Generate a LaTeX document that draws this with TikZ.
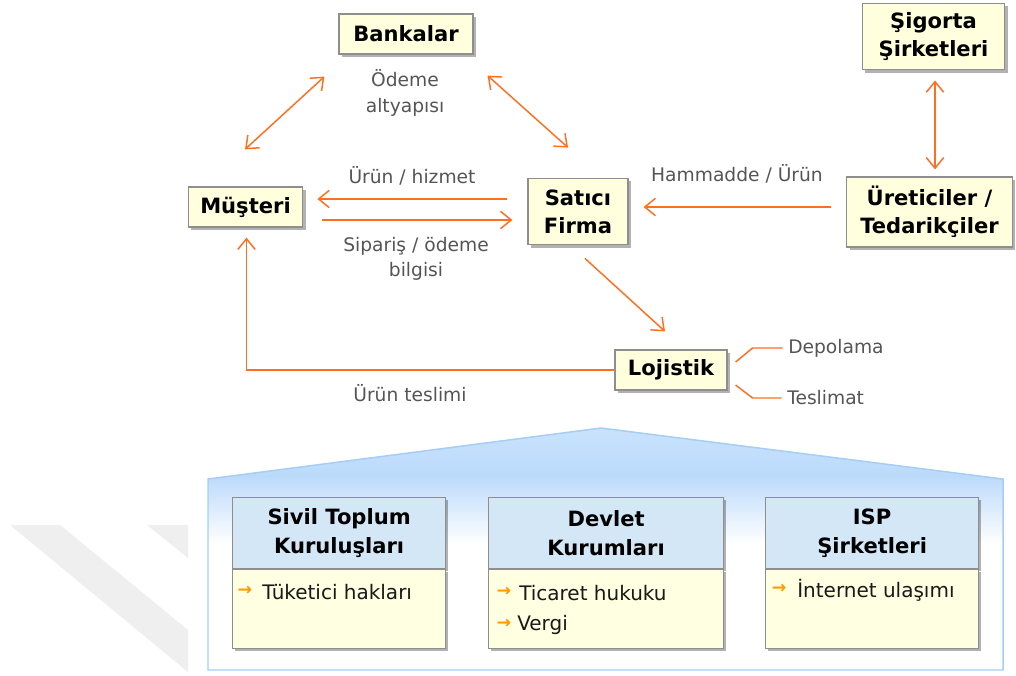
\documentclass[tikz,border=0pt]{standalone}
\usepackage{fontspec}
\setmainfont{DejaVu Sans}
\usetikzlibrary{arrows.meta,calc,shadows}
\definecolor{org}{HTML}{FF6F1F}
\definecolor{bul}{HTML}{FF9A00}
\definecolor{boxgray}{HTML}{8E8E8E}
\definecolor{boxyel}{HTML}{FFFFDD}
\definecolor{bodyyel}{HTML}{FFFFE2}
\definecolor{hdrblue}{HTML}{D4E7F6}
\definecolor{lblgray}{HTML}{555555}
\definecolor{hborder}{HTML}{A6CDF6}
\definecolor{hblue}{HTML}{BBDAFB}
\definecolor{hblue2}{HTML}{C9E2FD}
\definecolor{wm}{HTML}{EFEFEF}
\pgfdeclareverticalshading{houseshade}{100bp}{color(0bp)=(white); color(51bp)=(white); color(65bp)=(hblue); color(75bp)=(hblue2); color(100bp)=(hblue2)}
\begin{document}
\begin{tikzpicture}[x=0.75pt,y=-0.75pt,
  shad/.style={drop shadow={shadow xshift=2pt,shadow yshift=-2pt,opacity=0.3,fill=black}},
  topbox/.style={draw=boxgray, fill=boxyel, line width=0.9pt, shad, align=center, inner sep=0pt,
    font=\fontsize{15.8}{21}\selectfont\bfseries},
  hdr/.style={draw=boxgray, fill=hdrblue, line width=0.9pt, shad, align=center, inner sep=0pt,
    font=\fontsize{15.8}{21.5}\selectfont\bfseries},
  body/.style={draw=boxgray, fill=bodyyel, line width=0.9pt, shad, inner sep=0pt},
  lbl/.style={text=lblgray, align=center, inner sep=0pt, font=\fontsize{14}{19}\selectfont},
  item/.style={text=black!90, anchor=west, inner sep=0pt, font=\fontsize{15}{18}\selectfont},
  bull/.style={text=bul, inner sep=0pt, font=\fontsize{13}{13}\selectfont\bfseries},
  arr/.style={draw=org, line width=1.1pt, -{Straight Barb[length=8pt,width=13pt]}},
  dbl/.style={draw=org, line width=1.1pt, {Straight Barb[length=8pt,width=13pt]}-{Straight Barb[length=8pt,width=13pt]}},
  brl/.style={draw=org, line width=1.1pt, shorten >=4pt}
]
\useasboundingbox (0,0) rectangle (1016,675);
\fill[white] (0,0) rectangle (1016,675);
% watermark
\fill[wm] (10,525) -- (60,525) -- (188,630) -- (188,672) -- cycle;
\fill[wm] (147,525) -- (188,525) -- (188,558) -- cycle;

% house
\shade[shading=houseshade, draw=hborder, line width=1.1pt]
  (208,479) -- (601,428) -- (1003,479) -- (1003,670) -- (208,670) -- cycle;

% top nodes
\node[topbox, minimum width=100.5pt, minimum height=30pt] (bank) at (406,34) {Bankalar};
\node[topbox, minimum width=107pt, minimum height=50pt] (sig) at (933.5,36.5) {Şigorta\\Şirketleri};
\node[topbox, minimum width=124pt, minimum height=52.5pt] (ure) at (929.5,212) {Üreticiler /\\Tedarikçiler};
\node[topbox, minimum width=86pt, minimum height=30pt] (mus) at (245.5,207) {Müşteri};
\node[topbox, minimum width=75pt, minimum height=50pt] (sat) at (578,211.5) {Satıcı\\Firma};
\node[topbox, minimum width=84pt, minimum height=30pt] (loj) at (671,370) {Lojistik};

% labels
\node[lbl] (l1) at (405,93) {Ödeme\\altyapısı};
\node[lbl] (l2) at (412,176) {Ürün / hizmet};
\node[lbl] (l3) at (416,259) {Sipariş / ödeme\\bilgisi};
\node[lbl] (l4) at (737,174) {Hammadde / Ürün};
\node[lbl] (l5) at (410,393) {Ürün teslimi};
\node[lbl, anchor=west] (dep) at (788,348) {Depolama};
\node[lbl, anchor=west] (tes) at (787,398) {Teslimat};

% connectors
\draw[dbl] ($(mus.north)+(-0.5,-37)$) -- ($(bank.south west)+(-14,22)$);
\draw[dbl] ($(bank.south east)+(14,21)$) -- ($(sat.north)+(-10,-30)$);
\draw[dbl] ($(sig.south)+(1.5,10)$) -- ($(sig.south |- ure.north)+(1.5,-7)$);
\draw[arr] ($(ure.west)+(-15,-5)$) -- ($(sat.east)+(15,-4.5)$);
\draw[arr] ($(sat.west)+(-20,-12.5)$) -- ($(mus.east)+(14,-8)$);
\draw[arr] ($(mus.east)+(19,13)$) -- ($(sat.west)+(-15,8.5)$);
\draw[arr] ($(sat.south)+(7,13)$) -- ($(loj.north)+(-6,-18)$);
\coordinate (corner) at ($(loj.west -| mus.south)+(1,0)$);
\draw[arr] (loj.west) -- (corner) -- ($(mus.south)+(1,10)$);
\draw[brl] ($(loj.east)+(8,-8)$) -- ++(17,-14) -- (dep.west);
\draw[brl] ($(loj.east)+(8,15)$) -- ++(17,13) -- (tes.west);

% bottom boxes
\node[hdr, minimum width=159.75pt, minimum height=53.25pt, anchor=north west] (h1) at (232,497) {Sivil Toplum\\Kuruluşları};
\node[body, minimum width=159.75pt, minimum height=59.25pt, anchor=north] (bd1) at (h1.south) {};
\node[hdr, minimum width=176.25pt, minimum height=53.25pt, anchor=north west] (h2) at (488,497) {Devlet\\Kurumları};
\node[body, minimum width=176.25pt, minimum height=59.25pt, anchor=north] (bd2) at (h2.south) {};
\node[hdr, minimum width=159.75pt, minimum height=53.25pt, anchor=north west] (h3) at (765,497) {ISP\\Şirketleri};
\node[body, minimum width=159.75pt, minimum height=59.25pt, anchor=north] (bd3) at (h3.south) {};

\node[bull] (u1) at (245,591) {→};
\node[item] (i1) at (262,592) {Tüketici hakları};
\node[bull] (u2) at (504,592) {→};
\node[item] (i2) at (519,593) {Ticaret hukuku};
\node[bull] (u3) at (504,624) {→};
\node[item] (i3) at (517,625) {Vergi};
\node[bull] (u4) at (779,589) {→};
\node[item] (i4) at (797,590) {İnternet ulaşımı};
\end{tikzpicture}
\end{document}
